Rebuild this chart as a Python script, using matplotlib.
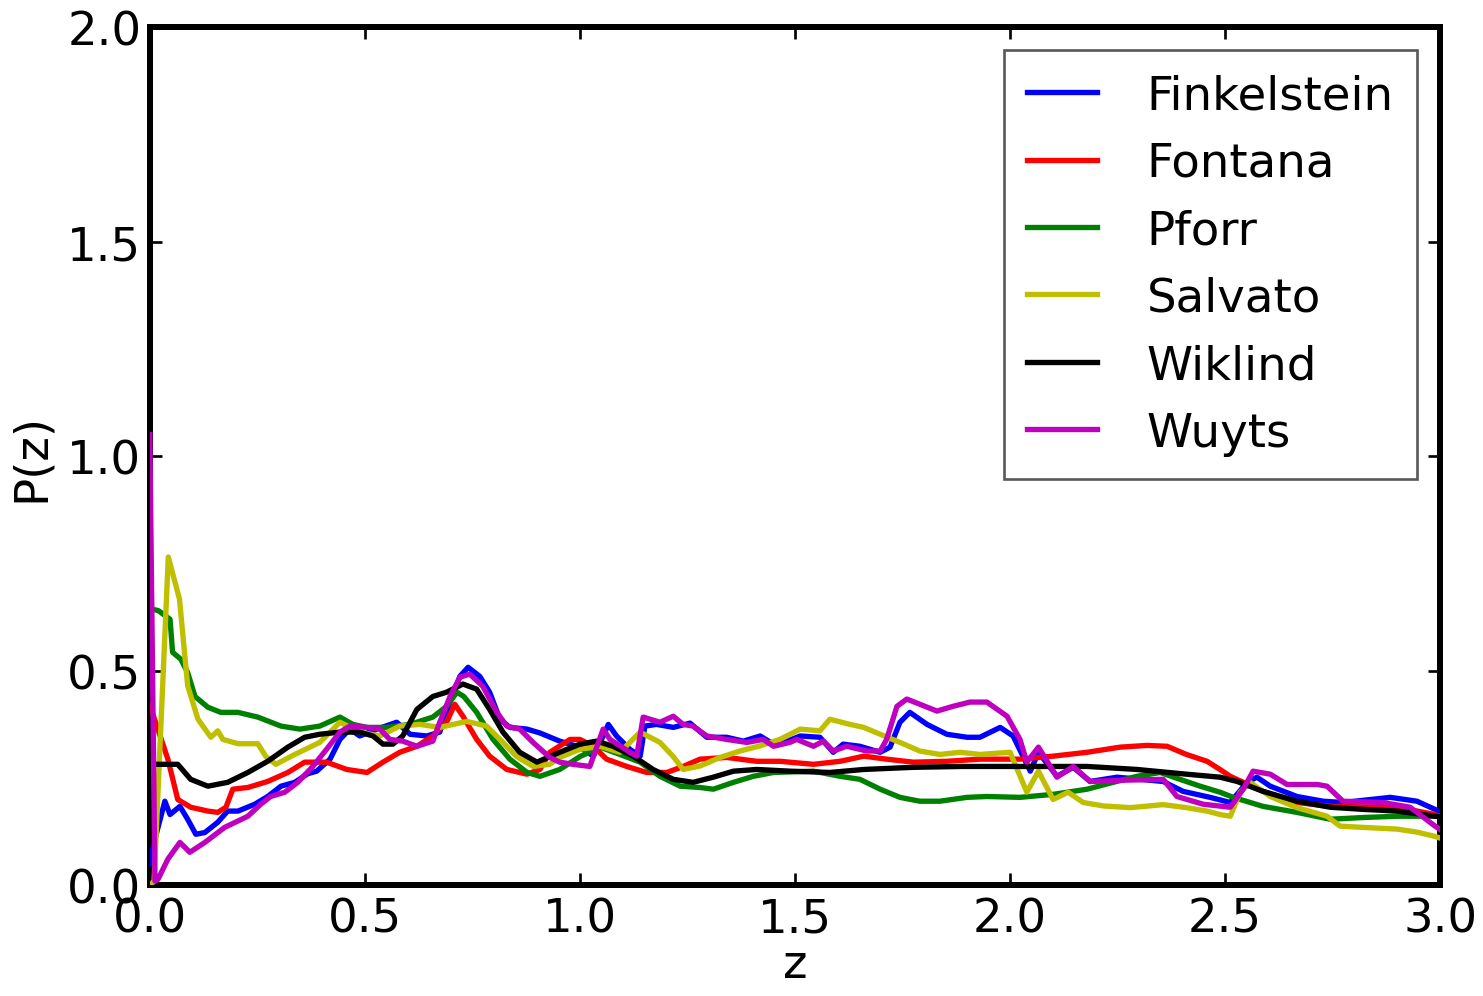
import matplotlib
matplotlib.use("Agg")
import matplotlib.pyplot as plt

plt.rcParams['font.family'] = ['DejaVu Sans']

# P(z) curves, (z, P) pairs per catalogue
finkelstein = [(0.0, 0.05), (0.01, 0.1), (0.035, 0.196), (0.047, 0.165), (0.07, 0.184), (0.088, 0.154),
               (0.107, 0.119), (0.128, 0.123), (0.158, 0.147), (0.181, 0.173), (0.205, 0.173), (0.244, 0.189),
               (0.274, 0.207), (0.305, 0.231), (0.337, 0.24), (0.367, 0.26), (0.388, 0.266), (0.419, 0.294),
               (0.442, 0.34), (0.465, 0.364), (0.488, 0.348), (0.528, 0.364), (0.574, 0.38), (0.605, 0.352),
               (0.644, 0.348), (0.674, 0.357), (0.698, 0.427), (0.721, 0.487), (0.74, 0.508), (0.767, 0.487),
               (0.79, 0.45), (0.814, 0.387), (0.837, 0.368), (0.877, 0.364), (0.907, 0.355), (0.953, 0.336),
               (1.0, 0.322), (1.031, 0.301), (1.054, 0.348), (1.066, 0.375), (1.085, 0.348), (1.116, 0.317),
               (1.14, 0.301), (1.151, 0.371), (1.178, 0.375), (1.217, 0.368), (1.256, 0.378), (1.295, 0.345),
               (1.341, 0.345), (1.38, 0.336), (1.419, 0.348), (1.45, 0.329), (1.465, 0.329), (1.512, 0.348),
               (1.558, 0.345), (1.589, 0.31), (1.612, 0.329), (1.651, 0.324), (1.698, 0.31), (1.721, 0.322),
               (1.744, 0.38), (1.767, 0.403), (1.807, 0.375), (1.853, 0.352), (1.9, 0.345), (1.93, 0.345),
               (1.977, 0.368), (2.007, 0.348), (2.047, 0.266), (2.066, 0.31), (2.109, 0.254), (2.147, 0.275),
               (2.186, 0.242), (2.249, 0.252), (2.356, 0.242), (2.402, 0.219), (2.465, 0.205), (2.512, 0.193),
               (2.551, 0.24), (2.574, 0.252), (2.605, 0.231), (2.667, 0.207), (2.728, 0.196), (2.774, 0.193),
               (2.884, 0.205), (2.946, 0.196), (2.988, 0.177), (3.0, 0.17)]

fontana = [(0.0, 0.42), (0.02, 0.36), (0.042, 0.294), (0.065, 0.2), (0.095, 0.182), (0.135, 0.173),
           (0.158, 0.17), (0.177, 0.182), (0.193, 0.224), (0.228, 0.228), (0.274, 0.242), (0.321, 0.263),
           (0.36, 0.287), (0.411, 0.287), (0.458, 0.27), (0.505, 0.263), (0.542, 0.287), (0.581, 0.31),
           (0.621, 0.324), (0.658, 0.348), (0.69, 0.38), (0.709, 0.422), (0.728, 0.394), (0.76, 0.34),
           (0.79, 0.301), (0.83, 0.27), (0.877, 0.259), (0.907, 0.27), (0.93, 0.31), (0.977, 0.34),
           (1.0, 0.34), (1.031, 0.324), (1.062, 0.294), (1.109, 0.277), (1.155, 0.263), (1.202, 0.263),
           (1.24, 0.277), (1.279, 0.294), (1.341, 0.298), (1.411, 0.289), (1.465, 0.289), (1.543, 0.282),
           (1.605, 0.289), (1.66, 0.301), (1.713, 0.294), (1.775, 0.287), (1.853, 0.289), (1.93, 0.294),
           (2.023, 0.294), (2.1, 0.301), (2.179, 0.31), (2.256, 0.322), (2.318, 0.326), (2.365, 0.324),
           (2.41, 0.305), (2.458, 0.289), (2.488, 0.27), (2.512, 0.254), (2.588, 0.219), (2.667, 0.193),
           (2.744, 0.184), (2.9, 0.182), (2.988, 0.165), (3.0, 0.16)]

pforr = [(0.0, 0.645), (0.02, 0.64), (0.047, 0.62), (0.053, 0.543), (0.072, 0.527), (0.088, 0.496),
         (0.105, 0.44), (0.135, 0.415), (0.165, 0.403), (0.205, 0.403), (0.251, 0.392), (0.305, 0.371),
         (0.349, 0.364), (0.395, 0.371), (0.442, 0.392), (0.472, 0.375), (0.505, 0.368), (0.551, 0.368),
         (0.605, 0.375), (0.658, 0.392), (0.69, 0.417), (0.714, 0.45), (0.73, 0.44), (0.76, 0.403),
         (0.798, 0.34), (0.837, 0.294), (0.877, 0.263), (0.907, 0.254), (0.953, 0.27), (1.0, 0.3),
         (1.047, 0.322), (1.093, 0.305), (1.14, 0.287), (1.186, 0.254), (1.233, 0.231), (1.279, 0.228),
         (1.31, 0.224), (1.357, 0.24), (1.403, 0.254), (1.45, 0.263), (1.543, 0.266), (1.605, 0.254),
         (1.651, 0.247), (1.698, 0.224), (1.744, 0.205), (1.79, 0.196), (1.837, 0.196), (1.9, 0.205),
         (1.946, 0.207), (2.023, 0.205), (2.1, 0.212), (2.179, 0.224), (2.24, 0.24), (2.295, 0.254),
         (2.349, 0.263), (2.395, 0.247), (2.442, 0.231), (2.488, 0.217), (2.519, 0.205), (2.588, 0.184),
         (2.667, 0.17), (2.744, 0.154), (2.821, 0.158), (2.9, 0.161), (3.0, 0.161)]

salvato = [(0.0, 0.0), (0.01, 0.01), (0.043, 0.765), (0.069, 0.667), (0.088, 0.465), (0.112, 0.387),
           (0.142, 0.345), (0.158, 0.36), (0.17, 0.34), (0.205, 0.33), (0.251, 0.33), (0.27, 0.3),
           (0.293, 0.282), (0.337, 0.305), (0.395, 0.333), (0.442, 0.38), (0.488, 0.357), (0.535, 0.348),
           (0.581, 0.371), (0.628, 0.375), (0.674, 0.368), (0.737, 0.382), (0.783, 0.371), (0.814, 0.34),
           (0.853, 0.3), (0.891, 0.277), (0.93, 0.282), (0.953, 0.298), (1.0, 0.317), (1.047, 0.324),
           (1.093, 0.31), (1.14, 0.357), (1.186, 0.333), (1.217, 0.3), (1.24, 0.27), (1.279, 0.278),
           (1.326, 0.298), (1.372, 0.313), (1.419, 0.325), (1.465, 0.34), (1.512, 0.364), (1.558, 0.36),
           (1.581, 0.387), (1.628, 0.375), (1.66, 0.368), (1.698, 0.352), (1.744, 0.333), (1.79, 0.313),
           (1.837, 0.305), (1.884, 0.31), (1.93, 0.305), (2.0, 0.31), (2.039, 0.217), (2.066, 0.266),
           (2.1, 0.2), (2.135, 0.217), (2.17, 0.193), (2.217, 0.185), (2.279, 0.181), (2.356, 0.188),
           (2.41, 0.181), (2.458, 0.173), (2.488, 0.165), (2.512, 0.161), (2.535, 0.217), (2.558, 0.24),
           (2.605, 0.207), (2.667, 0.181), (2.737, 0.161), (2.767, 0.138), (2.821, 0.135), (2.9, 0.131),
           (2.946, 0.124), (2.988, 0.114), (3.0, 0.11)]

wiklind = [(0.0, 0.282), (0.065, 0.282), (0.095, 0.247), (0.135, 0.231), (0.181, 0.24), (0.228, 0.263),
           (0.274, 0.289), (0.321, 0.322), (0.36, 0.345), (0.395, 0.352), (0.442, 0.357), (0.488, 0.357),
           (0.519, 0.348), (0.542, 0.329), (0.565, 0.329), (0.588, 0.348), (0.621, 0.41), (0.658, 0.44),
           (0.69, 0.45), (0.728, 0.469), (0.76, 0.457), (0.79, 0.41), (0.821, 0.357), (0.86, 0.31),
           (0.9, 0.287), (0.953, 0.31), (1.0, 0.329), (1.039, 0.336), (1.077, 0.324), (1.124, 0.301),
           (1.17, 0.27), (1.217, 0.247), (1.263, 0.24), (1.31, 0.252), (1.357, 0.266), (1.411, 0.27),
           (1.488, 0.266), (1.581, 0.263), (1.66, 0.27), (1.775, 0.275), (1.891, 0.277), (2.047, 0.277),
           (2.179, 0.277), (2.295, 0.27), (2.41, 0.259), (2.488, 0.252), (2.528, 0.242), (2.588, 0.219),
           (2.667, 0.196), (2.744, 0.182), (2.821, 0.177), (2.9, 0.173), (2.988, 0.161), (3.0, 0.16)]

wuyts = [(0.0, 1.05), (0.012, 0.01), (0.019, 0.014), (0.042, 0.061), (0.07, 0.1), (0.093, 0.077),
         (0.128, 0.1), (0.174, 0.135), (0.228, 0.161), (0.258, 0.189), (0.281, 0.207), (0.314, 0.217),
         (0.344, 0.24), (0.379, 0.277), (0.411, 0.317), (0.442, 0.357), (0.465, 0.371), (0.505, 0.368),
         (0.535, 0.364), (0.558, 0.34), (0.588, 0.336), (0.621, 0.324), (0.658, 0.336), (0.674, 0.38),
         (0.698, 0.44), (0.721, 0.485), (0.744, 0.492), (0.774, 0.464), (0.807, 0.403), (0.83, 0.371),
         (0.86, 0.364), (0.891, 0.333), (0.93, 0.298), (0.953, 0.287), (0.984, 0.282), (1.023, 0.277),
         (1.054, 0.364), (1.07, 0.34), (1.116, 0.31), (1.132, 0.301), (1.147, 0.392), (1.186, 0.38),
         (1.217, 0.394), (1.24, 0.375), (1.263, 0.371), (1.295, 0.348), (1.341, 0.34), (1.388, 0.333),
         (1.426, 0.34), (1.45, 0.324), (1.488, 0.333), (1.504, 0.34), (1.543, 0.324), (1.566, 0.336),
         (1.589, 0.313), (1.62, 0.324), (1.667, 0.313), (1.698, 0.313), (1.713, 0.34), (1.737, 0.417),
         (1.76, 0.434), (1.79, 0.422), (1.83, 0.406), (1.867, 0.417), (1.907, 0.427), (1.946, 0.427),
         (1.993, 0.394), (2.023, 0.34), (2.039, 0.287), (2.066, 0.322), (2.109, 0.252), (2.147, 0.277),
         (2.186, 0.242), (2.265, 0.245), (2.356, 0.247), (2.388, 0.207), (2.449, 0.189), (2.512, 0.182),
         (2.542, 0.224), (2.565, 0.266), (2.605, 0.259), (2.644, 0.235), (2.714, 0.235), (2.737, 0.231),
         (2.774, 0.196), (2.867, 0.193), (2.93, 0.182), (2.988, 0.138), (3.0, 0.13)]

labels = ['Finkelstein', 'Fontana', 'Pforr', 'Salvato', 'Wiklind', 'Wuyts']
colors = ['b', 'r', 'g', 'y', 'k', 'm']  # classic matplotlib colour letters
series = [finkelstein, fontana, pforr, salvato, wiklind, wuyts]

xticks = [0.0, 0.5, 1.0, 1.5, 2.0, 2.5, 3.0]
yticks = [0.0, 0.5, 1.0, 1.5, 2.0]

fig = plt.figure(figsize=(6.18, 4.154), dpi=240)
ax = fig.add_axes([0.101, 0.111, 0.870, 0.861])

for data, lab, c in zip(series, labels, colors):
    zs, ps = zip(*data)
    ax.plot(zs, ps, color=c, lw=1.6, label=lab, zorder=3)

ax.set_xlim(0, 3)
ax.set_ylim(0, 2)
ax.set_xticks(xticks)
ax.set_yticks(yticks)
ax.tick_params(direction='in', top=True, right=True, length=3.5, width=0.8, labelsize=14)
ax.tick_params(axis='x', pad=3.5)
ax.tick_params(axis='y', pad=2.5)
for s in ax.spines.values():
    s.set_linewidth(1.8)

ax.set_xlabel('z', fontsize=14, labelpad=0)
ax.set_ylabel('P(z)', fontsize=14, labelpad=4)

leg = ax.legend(loc='upper right', fontsize=14, handlelength=1.5, handletextpad=1.05,
                labelspacing=0.48, borderpad=0.5, fancybox=False, framealpha=1)
leg.get_frame().set_edgecolor('0.35')
leg.get_frame().set_linewidth(0.8)
leg.set_zorder(5)

fig.savefig('out.png', dpi=240)
